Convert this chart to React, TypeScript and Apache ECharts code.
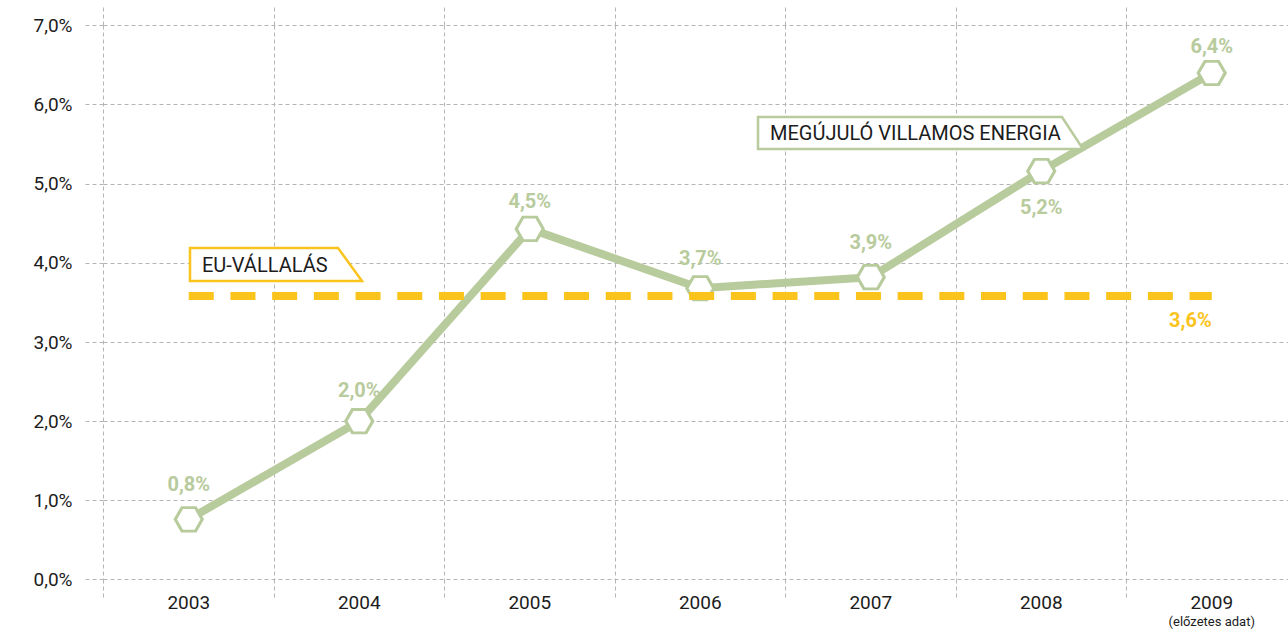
import { useEffect, useRef } from 'react';
import * as echarts from 'echarts';

// ---- data ----
const years = ['2003', '2004', '2005', '2006', '2007', '2008', '2009'];
const renewableShare = [0.76, 2.0, 4.43, 3.68, 3.82, 5.16, 6.4];
const renewableLabels = ['0,8%', '2,0%', '4,5%', '3,7%', '3,9%', '5,2%', '6,4%'];
const euTarget = 3.58;
const euTargetLabel = '3,6%';
const yMin = 0;
const yMax = 7;
const yStep = 1;
const lastYearNote = '(előzetes adat)';
const renewableName = 'MEGÚJULÓ VILLAMOS ENERGIA';
const euName = 'EU-VÁLLALÁS';

// ---- styles ----
const GREEN = '#b8cb9d';
const YELLOW = '#fbc41d';
const GRID = '#b5b5b5';
const TEXT = '#1c1c1c';
const FONT = 'Roboto, sans-serif';
const HEX = 'path://M0 43.3L25 0L75 0L100 43.3L75 86.6L25 86.6Z';
const CHART_W = 1310;
// label placement per point (above / below, gap)
const labelPlace = [
  { pos: 'top', gap: 12 },
  { pos: 'top', gap: 8 },
  { pos: 'top', gap: 5 },
  { pos: 'top', gap: 7 },
  { pos: 'top', gap: 12 },
  { pos: 'bottom', gap: 13 },
  { pos: 'top', gap: 4 },
];

const dashed = { color: GRID, width: 1, type: [4, 3] as number[] };

export default function App() {
  const ref = useRef<HTMLDivElement>(null);

  useEffect(() => {
    if (!ref.current) return;
    const chart = echarts.init(ref.current, undefined, { renderer: 'svg' });
    const option: any = {
      animation: false,
      textStyle: { fontFamily: FONT },
      grid: { left: 103.5, width: 1193.5, top: 25.5, bottom: 52.5, containLabel: false },
      xAxis: [
        {
          type: 'category',
          data: years,
          boundaryGap: true,
          position: 'bottom',
          axisLine: { show: false },
          axisTick: { show: true, length: 18, lineStyle: dashed },
          axisLabel: {
            margin: 12,
            formatter: (v: string) =>
              v === years[years.length - 1] ? `{y|${v}}\n{s|${lastYearNote}}` : `{y|${v}}`,
            rich: {
              y: { fontSize: 19, lineHeight: 22, color: TEXT, fontFamily: FONT },
              s: { fontSize: 13, lineHeight: 16, color: TEXT, fontFamily: FONT },
            },
          },
          splitLine: { show: true, lineStyle: dashed },
        },
        {
          type: 'category',
          data: years,
          boundaryGap: true,
          position: 'top',
          axisLine: { show: false },
          axisTick: { show: true, length: 19, lineStyle: dashed },
          axisLabel: { show: false },
          splitLine: { show: false },
        },
      ],
      yAxis: {
        type: 'value',
        min: yMin,
        max: yMax,
        interval: yStep,
        axisLine: { show: false },
        axisTick: { show: true, length: 19, lineStyle: dashed },
        axisLabel: {
          margin: 31,
          fontSize: 19,
          color: TEXT,
          fontFamily: FONT,
          formatter: (v: number) => v.toFixed(1).replace('.', ',') + '%',
        },
        splitLine: { show: true, lineStyle: dashed },
      },
      series: [
        {
          name: euName,
          type: 'line',
          data: [],
          z: 1,
          silent: true,
          markLine: {
            silent: true,
            symbol: 'none',
            lineStyle: { color: YELLOW, width: 8, type: [25, 16.7], cap: 'butt' },
            label: {
              show: true,
              position: 'insideEndBottom',
              formatter: euTargetLabel,
              color: YELLOW,
              fontWeight: 'bold',
              fontSize: 20,
              fontFamily: FONT,
              distance: [0, 14],
            },
            emphasis: { disabled: true },
            data: [[{ coord: [years[0], euTarget] }, { coord: [years[years.length - 1], euTarget] }]],
          },
        },
        {
          name: renewableName,
          type: 'line',
          z: 3,
          data: renewableShare.map((v, i) => ({
            value: v,
            label: { position: labelPlace[i].pos, distance: labelPlace[i].gap },
          })),
          lineStyle: { color: GREEN, width: 8 },
          symbol: HEX,
          symbolSize: [27, 23.4],
          symbolKeepAspect: false,
          itemStyle: { color: '#ffffff', borderColor: GREEN, borderWidth: 3 },
          label: {
            show: true,
            formatter: (p: any) => renewableLabels[p.dataIndex],
            color: GREEN,
            fontWeight: 'bold',
            fontSize: 20,
            fontFamily: FONT,
          },
          emphasis: { disabled: true },
        },
      ],
      graphic: [
        {
          type: 'polygon',
          z: 10,
          shape: { points: [[190, 248], [338, 248], [362, 281], [190, 281]] },
          style: { fill: '#ffffff', stroke: YELLOW, lineWidth: 2.5 },
        },
        {
          type: 'text',
          z: 11,
          x: 202,
          y: 265,
          style: {
            text: euName,
            fill: TEXT,
            fontSize: 20,
            fontFamily: FONT,
            align: 'left',
            textAlign: 'left',
            verticalAlign: 'middle',
            textVerticalAlign: 'middle',
          },
        },
        {
          type: 'polygon',
          z: 10,
          shape: { points: [[758, 117], [1062, 117], [1083, 149], [758, 149]] },
          style: { fill: '#ffffff', stroke: GREEN, lineWidth: 2.5 },
        },
        {
          type: 'text',
          z: 11,
          x: 770,
          y: 133,
          style: {
            text: renewableName,
            fill: TEXT,
            fontSize: 20,
            fontFamily: FONT,
            align: 'left',
            textAlign: 'left',
            verticalAlign: 'middle',
            textVerticalAlign: 'middle',
          },
        },
      ],
    };
    chart.setOption(option);
    return () => chart.dispose();
  }, []);

  return (
    <div
      style={{
        position: 'fixed',
        left: 0,
        top: 0,
        width: 1288,
        height: 632,
        overflow: 'hidden',
        background: '#ffffff',
      }}
    >
      <div ref={ref} style={{ width: CHART_W, height: 632 }} />
    </div>
  );
}
